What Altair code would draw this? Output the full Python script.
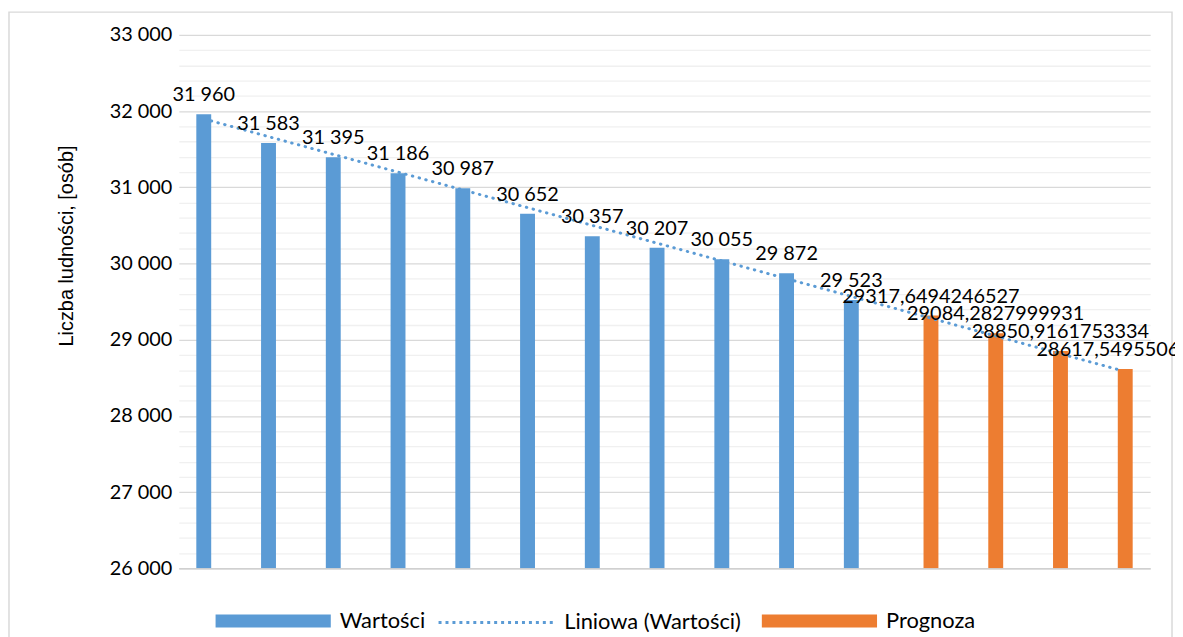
import altair as alt
import pandas as pd

# ---- data ----
idx = list(range(1, 16))
wartosci = [31960, 31583, 31395, 31186, 30987, 30652, 30357, 30207, 30055, 29872, 29523]
prognoza = [29317.6494246527, 29084.2827999931, 28850.9161753334, 28617.5495506737]
wart_labels = ["31 960", "31 583", "31 395", "31 186", "30 987", "30 652",
               "30 357", "30 207", "30 055", "29 872", "29 523"]
prog_labels = ["29317,6494246527", "29084,2827999931", "28850,9161753334", "28617,5495506737"]
series_names = ["Wartości", "Liniowa (Wartości)", "Prognoza"]
y_ticks = list(range(26000, 33001, 200))

BLUE = "#5B9BD5"
ORANGE = "#ED7D31"

rows = []
for i, v, l in zip(idx[:11], wartosci, wart_labels):
    rows.append({"idx": i, "value": v, "series": series_names[0], "label": l})
for i, v, l in zip(idx[11:], prognoza, prog_labels):
    rows.append({"idx": i, "value": v, "series": series_names[2], "label": l})
df = pd.DataFrame(rows)

x_enc = alt.X(
    "idx:O",
    scale=alt.Scale(domain=idx, paddingInner=0.54, paddingOuter=0.27),
    axis=alt.Axis(labels=False, ticks=False, title=None, grid=False,
                  domain=True, domainColor="#d0d0d0", domainWidth=1.5),
)
xoff_enc = alt.XOffset(
    "series:N",
    scale=alt.Scale(domain=[series_names[0], series_names[2]], paddingInner=0, paddingOuter=0),
)
y_enc = alt.Y(
    "value:Q",
    scale=alt.Scale(domain=[26000, 33000], nice=False, zero=False),
    axis=alt.Axis(
        values=y_ticks,
        title="Liczba ludności, [osób]",
        titleFont="Liberation Sans",
        titleFontSize=20,
        titleFontWeight="normal",
        titleColor="#000000",
        titleAngle=270,
        titleAlign="center",
        titleBaseline="middle",
        titleX=-113,
        titleY=212,
        labelExpr="datum.value % 1000 === 0 ? replace(format(datum.value, ','), ',', ' ') : ''",
        labelFont="Lato",
        labelFontSize=20,
        labelColor="#000000",
        labelPadding=7,
        ticks=False,
        domain=False,
        grid=True,
        gridColor={"condition": {"test": "datum.value % 1000 === 0", "value": "#d9d9d9"},
                   "value": "#f0f0f0"},
        gridWidth=1.3,
    ),
)
y2_base = alt.Y2(datum=26000)

RECT_PATH = "M-1,-0.112L1,-0.112L1,0.112L-1,0.112Z"
SYM = 116 * 116
LEG_Y = 532


def legend(x, **kw):
    return alt.Legend(orient="none", legendX=x, legendY=LEG_Y, title=None, padding=0,
                      symbolSize=SYM, labelFont="Lato", labelFontSize=22, labelLimit=400,
                      labelColor="#000000", labelOffset=9, **kw)


frame = alt.Chart(pd.DataFrame({"a": [0]})).mark_rect(
    filled=False, stroke="#d9d9d9", strokeWidth=1.5
).encode(x=alt.value(-171), x2=alt.value(1000), y=alt.value(-23), y2=alt.value(700))

blue_bars = alt.Chart(df).transform_filter(alt.datum.series == series_names[0]).mark_bar(clip=True).encode(
    x=x_enc, xOffset=xoff_enc, y=y_enc, y2=y2_base,
    color=alt.Color("series:N", scale=alt.Scale(domain=[series_names[0]], range=[BLUE]),
                    legend=legend(37, symbolType=RECT_PATH, symbolStrokeWidth=0)),
)

orange_bars = alt.Chart(df).transform_filter(alt.datum.series == series_names[2]).mark_bar(clip=True).encode(
    x=x_enc, xOffset=xoff_enc, y=y_enc, y2=y2_base,
    color=alt.Color("series:N", scale=alt.Scale(domain=[series_names[2]], range=[ORANGE]),
                    legend=legend(587, symbolType=RECT_PATH, symbolStrokeWidth=0)),
)

trend = (
    alt.Chart(df)
    .transform_filter(alt.datum.series == series_names[0])
    .transform_regression("idx", "value", extent=[1, 15])
    .transform_calculate(trend="'" + series_names[1] + "'")
    .mark_line(strokeDash=[0.5, 6.5], strokeCap="round", strokeWidth=3)
    .encode(
        x=x_enc, y=y_enc,
        color=alt.Color("trend:N", scale=alt.Scale(domain=[series_names[1]], range=[BLUE]),
                        legend=legend(260, symbolType="stroke", symbolStrokeWidth=3,
                                      symbolDash=[3, 4])),
    )
)

labels = alt.Chart(df).mark_text(
    dy=-13, baseline="alphabetic", font="Lato", fontSize=20, color="#000000"
).encode(x=x_enc, xOffset=xoff_enc, y=y_enc, text="label:N")

chart = (
    alt.layer(frame, blue_bars, orange_bars, trend, labels)
    .resolve_scale(color="independent")
    .properties(
        width=978, height=537,
        autosize=alt.AutoSizeParams(type="none"),
        padding={"left": 172, "top": 25, "right": 25, "bottom": 67},
        background="white",
    )
    .configure_view(stroke=None)
)

chart.save("out.html", embed_options={"renderer": "svg", "actions": False})
